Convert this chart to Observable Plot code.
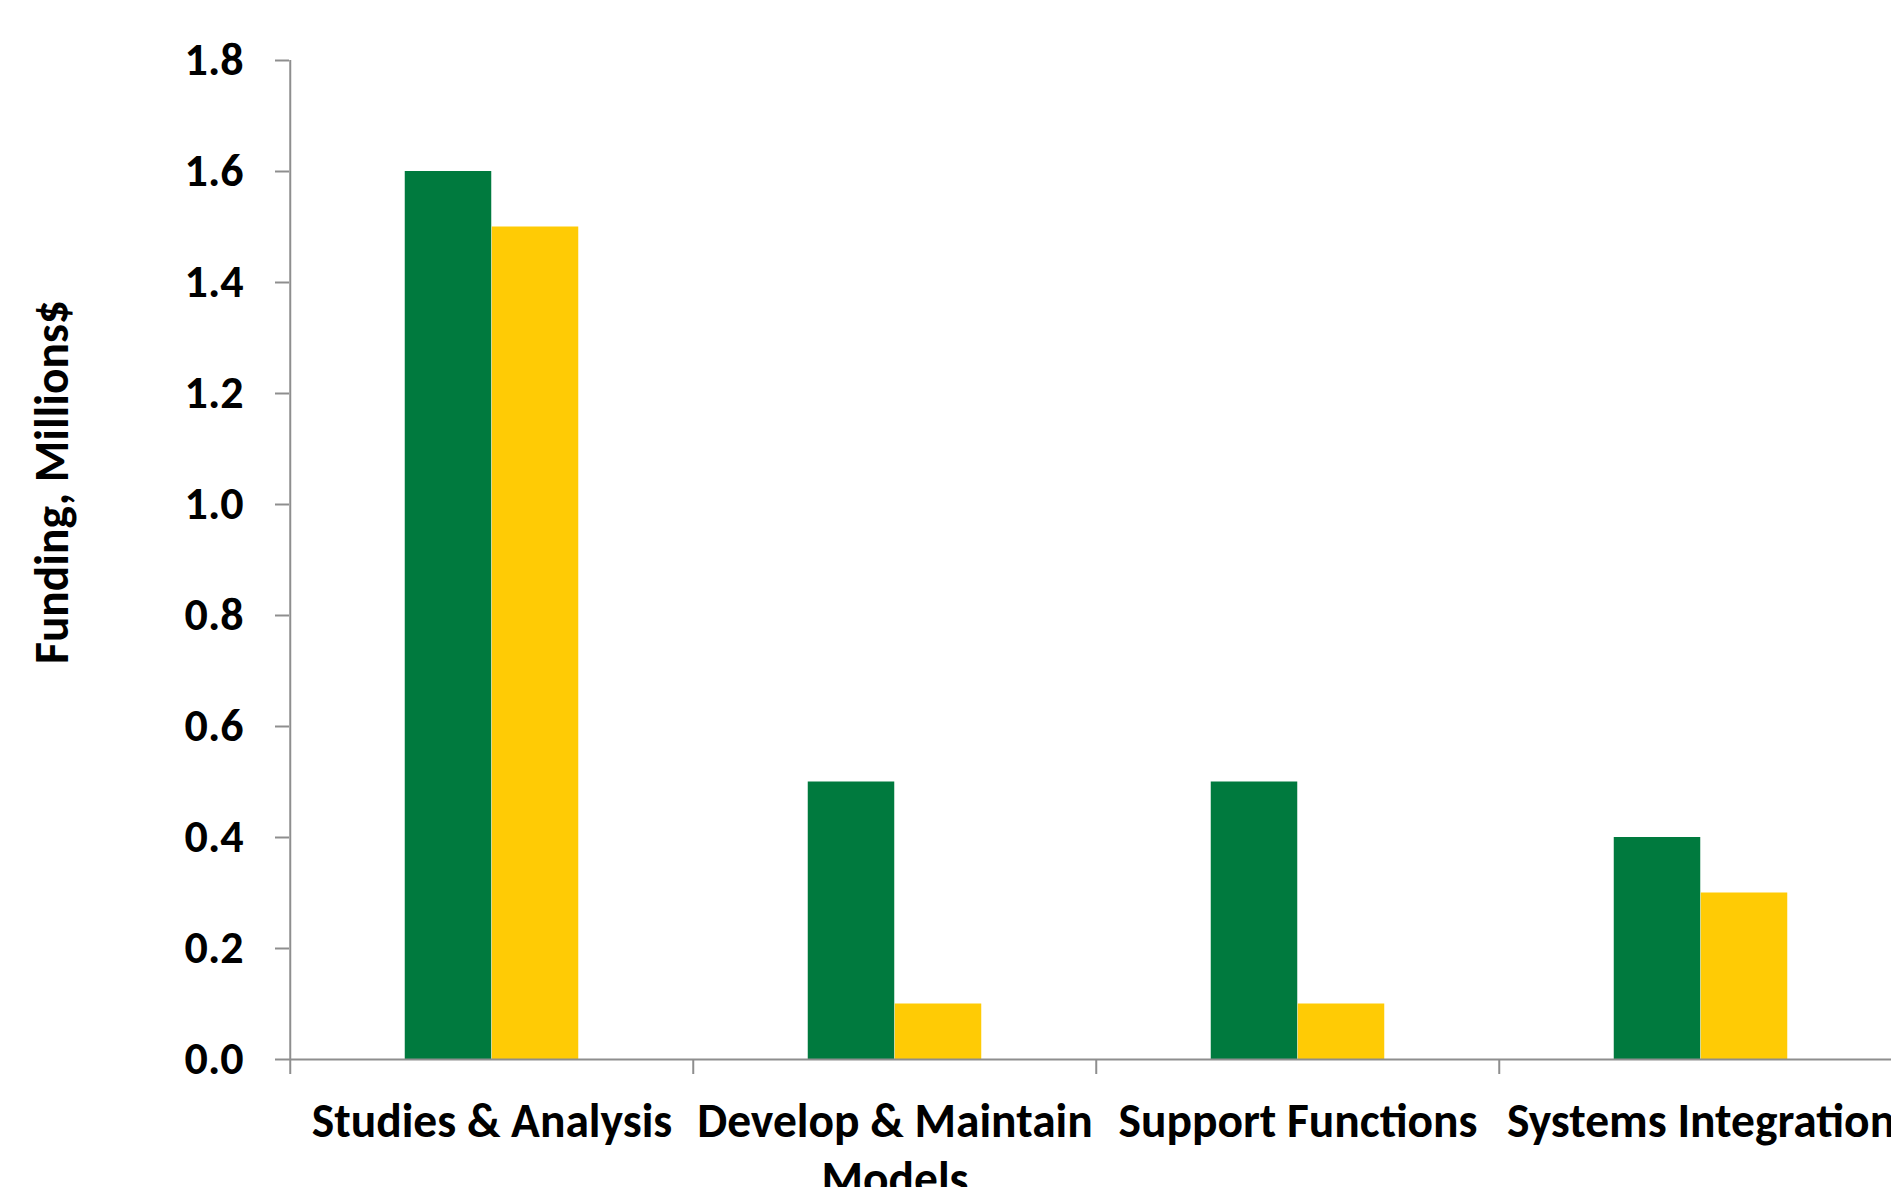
<!DOCTYPE html>
<html><head><meta charset="utf-8">
<script src="https://cdn.jsdelivr.net/npm/d3@7"></script>
<script src="https://cdn.jsdelivr.net/npm/@observablehq/plot@0.6"></script>
<style>html,body{margin:0;padding:0;background:#fff;overflow:hidden}#chart svg{display:block}</style>
</head><body><div id="chart"></div>
<script>
const categories = ["Studies & Analysis", "Develop & Maintain Models", "Support Functions", "Systems Integration"];
const categoryLabels = ["Studies & Analysis", "Develop & Maintain\nModels", "Support Functions", "Systems Integration"];
const seriesNames = ["Series 1", "Series 2"];
const series1 = [1.6, 0.5, 0.5, 0.4];
const series2 = [1.5, 0.1, 0.1, 0.3];
const yTicks = [0, 0.2, 0.4, 0.6, 0.8, 1.0, 1.2, 1.4, 1.6, 1.8];
const yTitle = "Funding, Millions$";

const FONT = "Carlito, 'Liberation Sans Narrow', 'Open Sans', sans-serif";
const GREEN = "#007A3E", YELLOW = "#FFCB05", GRAY = "#8E8E8E";
const W = 1891, H = 1187;
const mL = 289, mT = 60, mB = 128, xEnd = 1903;
const band = (xEnd - mL) / categories.length;
const barW = 87;

const d1 = categories.map((c, i) => ({category: c, value: series1[i]}));
const d2 = categories.map((c, i) => ({category: c, value: series2[i]}));

const chart = Plot.plot({
  width: W, height: H,
  marginLeft: mL, marginTop: mT, marginBottom: mB, marginRight: W - xEnd,
  style: {fontFamily: FONT, fontWeight: "bold", background: "#fff", color: "#000"},
  x: {domain: categories, padding: 0, axis: null, label: null},
  y: {domain: [0, 1.8], axis: null, label: null},
  marks: [
    Plot.barY(d1, {x: "category", y: "value", fill: GREEN,
      insetLeft: band / 2 - barW, insetRight: band / 2}),
    Plot.barY(d2, {x: "category", y: "value", fill: YELLOW,
      insetLeft: band / 2, insetRight: band / 2 - barW}),
    // y axis line
    Plot.ruleX([categories[0]], {x: d => d, y1: 0, y2: 1.8, dx: -band / 2, stroke: GRAY, strokeWidth: 2}),
    // baseline
    Plot.ruleY([0], {stroke: GRAY, strokeWidth: 2}),
    Plot.axisY(yTicks, {tickSize: 14, tickPadding: 32, tickFormat: d3.format(".1f"), label: null,
      fontSize: 46, stroke: GRAY, strokeWidth: 2, fill: "#000"}),
    // category boundary ticks
    Plot.axisX({tickSize: 15, text: null, label: null, dx: -band / 2, stroke: GRAY, strokeWidth: 2}),
    Plot.axisX({tickSize: 0, tickPadding: 36, fontSize: 47.5, lineHeight: 1.22, fill: "#000", label: null,
      tickFormat: d => categoryLabels[categories.indexOf(d)]}),
    Plot.text([yTitle], {frameAnchor: "left", textAnchor: "middle", lineAnchor: "middle",
      rotate: -90, dx: -237, dy: -78, fontSize: 47.5, fill: "#000"})
  ]
});
document.getElementById("chart").appendChild(chart);
</script>
</body></html>
